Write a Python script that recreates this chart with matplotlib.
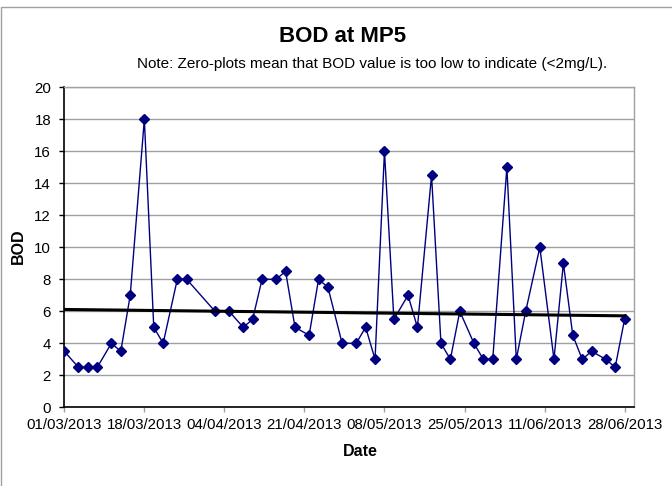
import matplotlib
matplotlib.use("Agg")
import matplotlib.pyplot as plt
import matplotlib.dates as mdates
from matplotlib.patches import Rectangle
import numpy as np
from datetime import datetime

dates = ["01/03/2013", "04/03/2013", "06/03/2013", "08/03/2013", "11/03/2013", "13/03/2013",
         "15/03/2013", "18/03/2013", "20/03/2013", "22/03/2013", "25/03/2013", "27/03/2013",
         "02/04/2013", "05/04/2013", "08/04/2013", "10/04/2013", "12/04/2013", "15/04/2013",
         "17/04/2013", "19/04/2013", "22/04/2013", "24/04/2013", "26/04/2013", "29/04/2013",
         "02/05/2013", "04/05/2013", "06/05/2013", "08/05/2013", "10/05/2013", "13/05/2013",
         "15/05/2013", "18/05/2013", "20/05/2013", "22/05/2013", "24/05/2013", "27/05/2013",
         "29/05/2013", "31/05/2013", "03/06/2013", "05/06/2013", "07/06/2013", "10/06/2013",
         "13/06/2013", "15/06/2013", "17/06/2013", "19/06/2013", "21/06/2013", "24/06/2013",
         "26/06/2013", "28/06/2013"]
bod = [3.5, 2.5, 2.5, 2.5, 4.0, 3.5,
       7.0, 18.0, 5.0, 4.0, 8.0, 8.0,
       6.0, 6.0, 5.0, 5.5, 8.0, 8.0,
       8.5, 5.0, 4.5, 8.0, 7.5, 4.0,
       4.0, 5.0, 3.0, 16.0, 5.5, 7.0,
       5.0, 14.5, 4.0, 3.0, 6.0, 4.0,
       3.0, 3.0, 15.0, 3.0, 6.0, 10.0,
       3.0, 9.0, 4.5, 3.0, 3.5, 3.0,
       2.5, 5.5]
tick_labels = ["01/03/2013", "18/03/2013", "04/04/2013", "21/04/2013",
               "08/05/2013", "25/05/2013", "11/06/2013", "28/06/2013"]
y_ticks = [0, 2, 4, 6, 8, 10, 12, 14, 16, 18, 20]

plt.rcParams['font.family'] = ['Liberation Sans', 'DejaVu Sans']

W, H = 672, 486
fig = plt.figure(figsize=(W / 100, H / 100), dpi=100)
ax = fig.add_axes([64.3 / W, 1 - 407.3 / H, (634 - 64.3) / W, (407.3 - 87.3) / H])

# outer chart-area border
fig.patches.append(Rectangle((1 / W, -0.5), 2.0, 1.5 - 7 / H, transform=fig.transFigure,
                             fill=False, edgecolor='#a0a0a0', linewidth=1.0))

x = [datetime.strptime(d, "%d/%m/%Y") for d in dates]
xn = mdates.date2num(x)

ax.plot(x, bod, color='#000080', linewidth=1.0, marker='D', markersize=5.2,
        markerfacecolor='#000080', markeredgecolor='#000080', zorder=3)

# linear trendline
coef = np.polyfit(xn, bod, 1)
tx = np.array([xn[0], xn[-1]])
ax.plot(mdates.num2date(tx), np.polyval(coef, tx), color='black', linewidth=2.2, zorder=4)

ax.set_ylim(0, 20)
ax.set_yticks(y_ticks)
ax.set_xlim(datetime(2013, 3, 1), datetime(2013, 6, 30))
ticks = [datetime.strptime(t, "%d/%m/%Y") for t in tick_labels]
ax.set_xticks(ticks)
ax.set_xticklabels(tick_labels)

ax.yaxis.grid(True, color='#a0a0a0', linewidth=1.0)
ax.set_axisbelow(True)
for s in ['top', 'right']:
    ax.spines[s].set_color('#a0a0a0')
    ax.spines[s].set_linewidth(1.0)
for s in ['left', 'bottom']:
    ax.spines[s].set_color('black')
    ax.spines[s].set_linewidth(1.2)

ax.tick_params(axis='y', direction='out', length=3.5, width=1, color='black', labelsize=10.8, pad=6)
ax.tick_params(axis='x', direction='out', length=3.5, width=1, color='#a0a0a0', labelsize=10.8, pad=4.5)

fig.text(18 / W, 1 - 246 / H, "BOD", ha='center', va='center', rotation=90,
         fontsize=11.5, fontweight='bold')
fig.text(360 / W, 1 - 451 / H, "Date", ha='center', va='center', fontsize=11.5, fontweight='bold')

fig.text(343 / W, 1 - 37 / H, "BOD at MP5", ha='center', va='center', fontsize=16, fontweight='bold')
fig.text(372.5 / W, 1 - 64 / H, "Note: Zero-plots mean that BOD value is too low to indicate (<2mg/L).",
         ha='center', va='center', fontsize=11)

fig.savefig("out.png", dpi=100)
